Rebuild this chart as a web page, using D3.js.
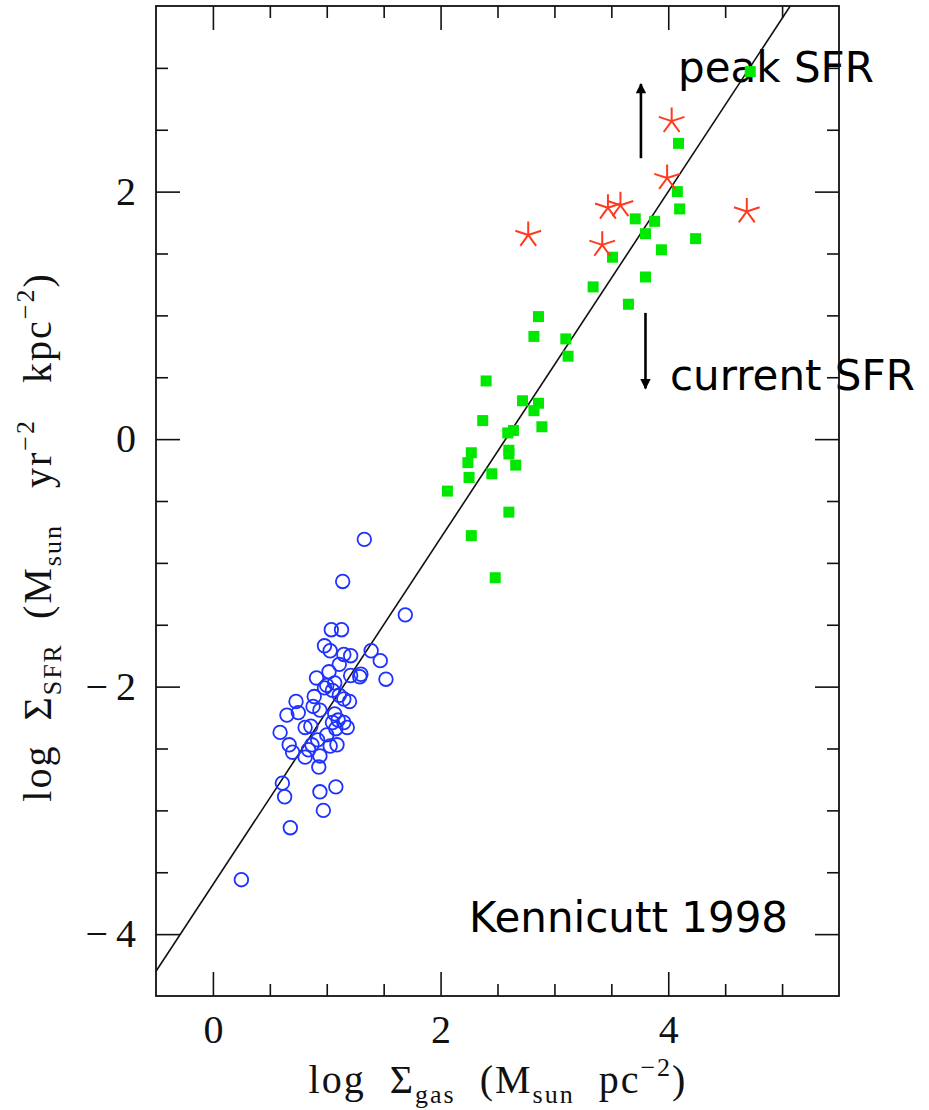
<!DOCTYPE html>
<html>
<head>
<meta charset="utf-8">
<script src="https://cdn.jsdelivr.net/npm/d3@7"></script>
<style>
  html, body { margin: 0; padding: 0; background: #fff; }
  svg { display: block; }
  text { white-space: pre; }
</style>
</head>
<body>
<svg id="chart" width="929" height="1110"></svg>
<script>
// Normal spiral discs: [log Σgas, log ΣSFR]
const spirals = [
  [1.33,-0.81],[1.14,-1.15],[1.69,-1.42],[1.04,-1.54],[1.13,-1.54],[0.98,-1.67],
  [1.03,-1.71],[1.39,-1.71],[1.15,-1.74],[1.21,-1.75],[1.47,-1.79],[1.11,-1.82],
  [1.02,-1.88],[0.91,-1.93],[1.21,-1.91],[1.30,-1.90],[1.29,-1.92],[1.52,-1.94],
  [1.07,-1.97],[1.00,-1.99],[0.98,-2.01],[1.05,-2.03],[1.11,-2.07],[1.15,-2.10],
  [0.89,-2.08],[0.73,-2.12],[1.20,-2.12],[0.88,-2.16],[0.94,-2.19],[0.75,-2.21],
  [0.65,-2.23],[1.07,-2.22],[1.10,-2.27],[1.05,-2.29],[1.15,-2.29],[0.81,-2.33],
  [0.86,-2.32],[1.08,-2.34],[1.18,-2.33],[0.59,-2.37],[1.00,-2.39],[0.92,-2.43],
  [0.87,-2.47],[0.67,-2.47],[1.03,-2.48],[1.09,-2.47],[0.70,-2.53],[0.84,-2.51],
  [0.81,-2.57],[0.94,-2.56],[0.93,-2.65],[0.61,-2.78],[0.63,-2.89],[0.94,-2.85],
  [1.08,-2.81],[0.97,-3.00],[0.68,-3.14],[0.25,-3.56]
];

// Circumnuclear starbursts: [log Σgas, log ΣSFR]
const starbursts = [
  [4.72,2.97],[4.09,2.39],[4.08,2.00],[4.10,1.86],[3.71,1.78],[3.88,1.76],
  [3.80,1.66],[4.24,1.62],[3.94,1.53],[3.51,1.47],[3.80,1.31],[3.34,1.23],
  [3.65,1.09],[2.86,0.99],[2.82,0.83],[3.10,0.81],[3.12,0.67],[2.40,0.47],
  [2.72,0.31],[2.86,0.29],[2.82,0.23],[2.37,0.15],[2.89,0.10],[2.64,0.07],
  [2.59,0.05],[2.60,-0.09],[2.27,-0.11],[2.60,-0.12],[2.24,-0.19],[2.66,-0.21],
  [2.45,-0.28],[2.25,-0.31],[2.06,-0.42],[2.60,-0.59],[2.27,-0.78],[2.48,-1.12]
];

// Peak star formation rates: [log Σgas, log ΣSFR]
const peakSFR = [
  [4.03,2.57],[3.99,2.11],[3.47,1.87],[3.58,1.89],[2.77,1.65],[3.42,1.57],[4.69,1.84]
];

// Schmidt law: log ΣSFR = slope * log Σgas + intercept
const lawSlope = 1.4;
const lawIntercept = -3.6;

// Axis ranges and ticks
const xDomain = [-0.5, 5.5];
const yDomain = [-4.5, 3.5];
const xMajor = [0, 2, 4];
const yMajor = [-4, -2, 0, 2];
const xMinor = [0.5, 1, 1.5, 2.5, 3, 3.5, 4.5, 5];
const yMinor = [-3.5, -3, -2.5, -1.5, -1, -0.5, 0.5, 1, 1.5, 2.5, 3];

// Arrows: [x, yFrom, yTo] in data units
const arrows = [
  [3.76, 2.27, 2.87],
  [3.80, 1.02, 0.41]
];

const svg = d3.select("#chart");
const frame = { left: 156, right: 839, top: 6, bottom: 996 };

const x = d3.scaleLinear().domain(xDomain).range([frame.left, frame.right]);
const y = d3.scaleLinear().domain(yDomain).range([frame.bottom, frame.top]);

// Annotation text (sits beneath the data)
const sans = "'DejaVu Sans', Verdana, sans-serif";
const note = (tx, ty, s) => svg.append("text").attr("x", tx).attr("y", ty)
  .attr("font-family", sans).attr("font-size", 42).attr("fill", "#000").text(s);
note(678, 82, "peak SFR");
note(670, 390, "current SFR");
note(469, 932, "Kennicutt 1998");

// Clip region for the plotting area
svg.append("clipPath").attr("id", "plotArea")
  .append("rect").attr("x", frame.left).attr("y", frame.top)
  .attr("width", frame.right - frame.left).attr("height", frame.bottom - frame.top);

const plot = svg.append("g").attr("clip-path", "url(#plotArea)");

// Fit line
const lineX = [xDomain[0], (yDomain[1] - lawIntercept) / lawSlope];
plot.append("path")
  .datum(lineX.map(v => [v, lawSlope * v + lawIntercept]))
  .attr("d", d3.line().x(d => x(d[0])).y(d => y(d[1])))
  .attr("fill", "none").attr("stroke", "#111").attr("stroke-width", 1.6);

// Spirals: open blue circles
plot.append("g").selectAll("circle").data(spirals).join("circle")
  .attr("cx", d => x(d[0])).attr("cy", d => y(d[1])).attr("r", 6.8)
  .attr("fill", "none").attr("stroke", "#1e32ff").attr("stroke-width", 1.8);

// Starbursts: filled green squares
const sq = 11;
plot.append("g").selectAll("rect").data(starbursts).join("rect")
  .attr("x", d => x(d[0]) - sq / 2).attr("y", d => y(d[1]) - sq / 2)
  .attr("width", sq).attr("height", sq)
  .attr("fill", "#00e800");

// Peak SFR: red five-armed asterisks
const arm = 13.5;
const starPath = () => {
  let p = "";
  for (let k = 0; k < 5; k++) {
    const a = (-90 + 72 * k) * Math.PI / 180;
    p += `M0,0L${(arm * Math.cos(a)).toFixed(2)},${(arm * Math.sin(a)).toFixed(2)}`;
  }
  return p;
};
plot.append("g").selectAll("path").data(peakSFR).join("path")
  .attr("transform", d => `translate(${x(d[0])},${y(d[1])})`)
  .attr("d", starPath())
  .attr("fill", "none").attr("stroke", "#ff3a1e").attr("stroke-width", 2)
  .attr("stroke-linecap", "butt");

// Arrows
svg.append("defs").append("marker")
  .attr("id", "head").attr("viewBox", "0 0 10 10")
  .attr("refX", 9).attr("refY", 5)
  .attr("markerWidth", 5).attr("markerHeight", 4)
  .attr("markerUnits", "strokeWidth")
  .attr("orient", "auto")
  .append("path").attr("d", "M0,0L10,5L0,10Z").attr("fill", "#000");

svg.append("g").selectAll("line").data(arrows).join("line")
  .attr("x1", d => x(d[0])).attr("x2", d => x(d[0]))
  .attr("y1", d => y(d[1])).attr("y2", d => y(d[2]))
  .attr("stroke", "#000").attr("stroke-width", 2.6)
  .attr("marker-end", "url(#head)");

// Frame and ticks
const serif = "'Liberation Serif', 'Times New Roman', serif";
const major = 24, minor = 12;
const fmt = d => d < 0 ? "\u2212\u2009" + Math.abs(d) : String(d);

function styleAxis(g) {
  g.select(".domain").remove();
  g.selectAll(".tick line").attr("stroke", "#111").attr("stroke-width", 1.6);
  g.selectAll("text").attr("font-family", serif).attr("font-size", 40).attr("fill", "#111");
}

svg.append("g").attr("transform", `translate(0,${frame.bottom})`)
  .call(d3.axisBottom(x).tickValues(xMajor).tickFormat(fmt).tickSize(-major).tickPadding(19))
  .call(styleAxis);
svg.append("g").attr("transform", `translate(0,${frame.bottom})`)
  .call(d3.axisBottom(x).tickValues(xMinor).tickFormat("").tickSize(-minor))
  .call(styleAxis);
svg.append("g").attr("transform", `translate(0,${frame.top})`)
  .call(d3.axisTop(x).tickValues(xMajor).tickFormat("").tickSize(-major))
  .call(styleAxis);
svg.append("g").attr("transform", `translate(0,${frame.top})`)
  .call(d3.axisTop(x).tickValues(xMinor).tickFormat("").tickSize(-minor))
  .call(styleAxis);

svg.append("g").attr("transform", `translate(${frame.left},0)`)
  .call(d3.axisLeft(y).tickValues(yMajor).tickFormat(fmt).tickSize(-major).tickPadding(20))
  .call(styleAxis);
svg.append("g").attr("transform", `translate(${frame.left},0)`)
  .call(d3.axisLeft(y).tickValues(yMinor).tickFormat("").tickSize(-minor))
  .call(styleAxis);
svg.append("g").attr("transform", `translate(${frame.right},0)`)
  .call(d3.axisRight(y).tickValues(yMajor).tickFormat("").tickSize(-major))
  .call(styleAxis);
svg.append("g").attr("transform", `translate(${frame.right},0)`)
  .call(d3.axisRight(y).tickValues(yMinor).tickFormat("").tickSize(-minor))
  .call(styleAxis);

svg.append("rect").attr("x", frame.left).attr("y", frame.top)
  .attr("width", frame.right - frame.left).attr("height", frame.bottom - frame.top)
  .attr("fill", "none").attr("stroke", "#111").attr("stroke-width", 1.8);

// Axis titles with sub/superscripts
function title(sel, parts) {
  parts.forEach(p => {
    const t = sel.append("tspan").text(p.t);
    if (p.sub) t.attr("font-size", 26).attr("dy", 10);
    else if (p.sup) t.attr("font-size", 26).attr("dy", -17);
    if (p.back) t.attr("dy", p.back);
  });
}

const xt = svg.append("text").attr("x", 498).attr("y", 1093)
  .attr("text-anchor", "middle").attr("font-family", serif)
  .attr("font-size", 40).attr("letter-spacing", 2).attr("fill", "#111");
title(xt, [
  { t: "log  \u03A3" }, { t: "gas", sub: true },
  { t: "  (M", back: -10 }, { t: "sun", sub: true },
  { t: "  pc", back: -10 }, { t: "\u22122", sup: true },
  { t: ")", back: 17 }
]);

const yt = svg.append("text")
  .attr("transform", "translate(51,537) rotate(-90)")
  .attr("text-anchor", "middle").attr("font-family", serif)
  .attr("font-size", 40).attr("letter-spacing", 2).attr("fill", "#111");
title(yt, [
  { t: "log  \u03A3" }, { t: "SFR", sub: true },
  { t: "  (M", back: -10 }, { t: "sun", sub: true },
  { t: "   yr", back: -10 }, { t: "\u22122", sup: true },
  { t: "   kpc", back: 17 }, { t: "\u22122", sup: true },
  { t: ")", back: 17 }
]);
</script>
</body>
</html>
